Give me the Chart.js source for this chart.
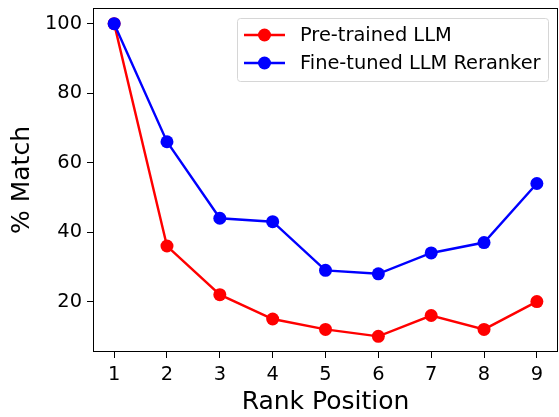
<!DOCTYPE html>
<html>
<head>
<meta charset="utf-8">
<script src="https://cdn.jsdelivr.net/npm/chart.js@4.4.1/dist/chart.umd.min.js"></script>
<style>
  html, body { margin: 0; padding: 0; background: #fff; }
  #wrap { width: 559px; height: 417px; position: relative; }
</style>
</head>
<body>
<div id="wrap"><canvas id="chart"></canvas></div>
<script>
// data
const ranks = [1, 2, 3, 4, 5, 6, 7, 8, 9];
const pretrained = [100, 36, 22, 15, 12, 10, 16, 12, 20];
const finetuned = [100, 66, 44, 43, 29, 28, 34, 37, 54];
const yTicks = [20, 40, 60, 80, 100];
const seriesNames = ['Pre-trained LLM', 'Fine-tuned LLM Reranker'];
const seriesColors = ['#ff0000', '#0000ff'];

const FONT = "'DejaVu Sans', sans-serif";
const TICK_SIZE = 19.4;

function toPoints(vals) {
  return ranks.map((r, i) => ({ x: r, y: vals[i] }));
}

// frame around the plot + matplotlib style legend
const framePlugin = {
  id: 'frame',
  afterDraw(chart) {
    const ctx = chart.ctx;
    const a = chart.chartArea;
    ctx.save();
    ctx.strokeStyle = '#000';
    ctx.lineWidth = 1;
    ctx.strokeRect(a.left + 0.5, a.top + 0.5, a.right - a.left - 1, a.bottom - a.top - 1);

    // legend box
    const bx = 237, by = 18, bw = 311, bh = 63;
    ctx.fillStyle = 'rgba(255,255,255,0.8)';
    ctx.strokeStyle = '#d6d6d6';
    ctx.lineWidth = 1;
    ctx.beginPath();
    ctx.roundRect(bx + 0.5, by + 0.5, bw, bh, 3);
    ctx.fill();
    ctx.stroke();

    chart.data.datasets.forEach((ds, i) => {
      const y = 35 + i * 28;
      ctx.strokeStyle = ds.borderColor;
      ctx.lineWidth = 2.4;
      ctx.beginPath();
      ctx.moveTo(244, y);
      ctx.lineTo(285, y);
      ctx.stroke();
      ctx.fillStyle = ds.borderColor;
      ctx.beginPath();
      ctx.arc(264.5, y, 6.5, 0, Math.PI * 2);
      ctx.fill();
      ctx.fillStyle = '#000';
      ctx.font = TICK_SIZE + 'px ' + FONT;
      ctx.textBaseline = 'middle';
      ctx.textAlign = 'left';
      ctx.fillText(ds.label, 300, y + 1);
    });
    ctx.restore();
  }
};

const ctx = document.getElementById('chart').getContext('2d');
const myChart = new Chart(ctx, {
  type: 'line',
  data: {
    datasets: [
      {
        label: seriesNames[0],
        data: toPoints(pretrained),
        borderColor: seriesColors[0],
        backgroundColor: seriesColors[0],
        borderWidth: 2.4,
        pointRadius: 6.5,
        pointHoverRadius: 6.5,
        pointBorderWidth: 0,
        tension: 0,
        clip: false,
        order: 1
      },
      {
        label: seriesNames[1],
        data: toPoints(finetuned),
        borderColor: seriesColors[1],
        backgroundColor: seriesColors[1],
        borderWidth: 2.4,
        pointRadius: 6.5,
        pointHoverRadius: 6.5,
        pointBorderWidth: 0,
        tension: 0,
        clip: false,
        order: 0
      }
    ]
  },
  options: {
    responsive: true,
    maintainAspectRatio: false,
    animation: false,
    layout: { autoPadding: false, padding: { top: 8, right: 1, left: 0, bottom: 0 } },
    plugins: {
      legend: { display: false },
      tooltip: { enabled: false }
    },
    scales: {
      x: {
        type: 'linear',
        min: 0.6,
        max: 9.4,
        afterBuildTicks: (s) => { s.ticks = ranks.map(v => ({ value: v })); },
        afterFit: (s) => { s.height = 65; s.paddingLeft = 0; s.paddingRight = 0; },
        grid: {
          drawOnChartArea: false,
          drawTicks: true,
          tickLength: 6,
          tickWidth: 1,
          tickColor: '#000'
        },
        border: { display: false },
        ticks: {
          color: '#000',
          font: { family: FONT, size: TICK_SIZE },
          padding: 5,
          maxRotation: 0,
          callback: (v) => v
        },
        title: {
          display: true,
          text: 'Rank Position',
          color: '#000',
          font: { family: FONT, size: 25 },
          padding: { top: 0, bottom: 0 }
        }
      },
      y: {
        min: 5.5,
        max: 104.5,
        afterBuildTicks: (s) => { s.ticks = yTicks.map(v => ({ value: v })); },
        afterFit: (s) => { s.width = 93; s.paddingTop = 0; s.paddingBottom = 0; },
        grid: {
          drawOnChartArea: false,
          drawTicks: true,
          tickLength: 6,
          tickWidth: 1,
          tickColor: '#000'
        },
        border: { display: false },
        ticks: {
          color: '#000',
          font: { family: FONT, size: TICK_SIZE },
          padding: 5,
          callback: (v) => v
        },
        title: {
          display: true,
          text: '% Match',
          color: '#000',
          font: { family: FONT, size: 25 },
          padding: { top: 7, bottom: 0 }
        }
      }
    }
  },
  plugins: [framePlugin]
});
</script>
</body>
</html>
